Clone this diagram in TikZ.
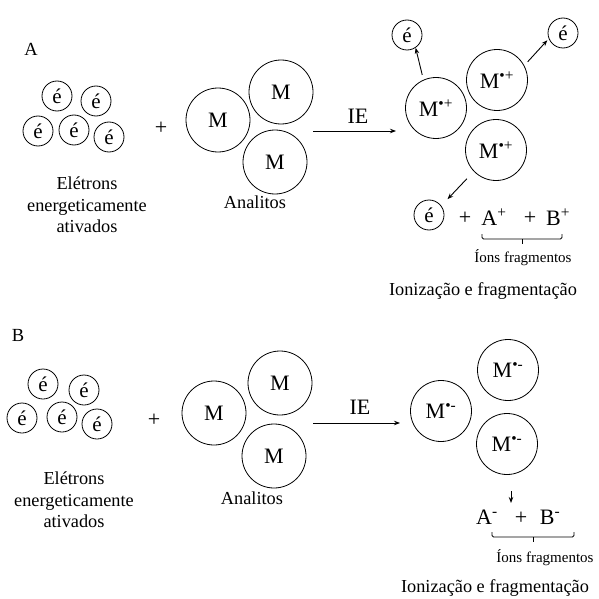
\documentclass[tikz,border=0pt]{standalone}
\usepackage{fontspec}
\setmainfont{Liberation Serif}
\usetikzlibrary{arrows.meta}
\tikzset{
  elec/.style={circle,draw,line width=0.8pt,minimum size=30pt,inner sep=0pt,font=\fontsize{21}{23}\selectfont},
  mol/.style={circle,draw,line width=0.8pt,minimum size=64pt,inner sep=0pt,font=\fontsize{22}{24}\selectfont},
  ion/.style={circle,draw,line width=0.8pt,minimum size=61pt,inner sep=0pt,font=\fontsize{22}{24}\selectfont},
  lbl/.style={font=\fontsize{18.3}{21.5}\selectfont,align=center,inner sep=0pt},
  big/.style={font=\fontsize{22}{24}\selectfont,inner sep=0pt},
  tag/.style={font=\fontsize{18.5}{21}\selectfont,inner sep=0pt},
  small/.style={font=\fontsize{15}{17}\selectfont,inner sep=0pt},
  arr/.style={line width=0.9pt,-{Stealth[length=6pt,width=4.5pt]}},
  brace/.style={line width=0.8pt}
}
\begin{document}
\begin{tikzpicture}[x=1pt,y=-1pt]
\useasboundingbox (0,0) rectangle (599,599);

% ---------- Panel A ----------
\node[tag] (labA) at (31,49) {A};
\node[elec] (a1) at (57,96) {é};
\node[elec] (a2) at (96,101) {é};
\node[elec] (a3) at (38,131) {é};
\node[elec] (a4) at (74,130) {é};
\node[elec] (a5) at (109,137) {é};
\node[lbl] (aelet) at (87,205) {Elétrons\\energeticamente\\ativados};
\node[big] (aplus) at (161,128) {+};
\node[mol] (am1) at (218,120) {M};
\node[mol] (am2) at (281,92) {M};
\node[mol] (am3) at (275,162) {M};
\node[lbl] (aanal) at (255,202) {Analitos};
\coordinate (aarrs) at (313,131);
\coordinate (aarre) at (396,131);
\draw[arr] (aarrs) -- (aarre);
\node[big] (aie) at (358,116) {IE};
\node[ion] (ai1) at (436,108) {M\textsuperscript{•+}};
\node[ion] (ai2) at (497,80) {M\textsuperscript{•+}};
\node[ion] (ai3) at (496,150) {M\textsuperscript{•+}};
\node[elec] (ae1) at (407,35) {é};
\node[elec] (ae2) at (563,33) {é};
\node[elec] (ae3) at (429,215) {é};
\draw[arr,shorten <=5pt] (ai1.114) -- (ae1.-56);
\draw[arr,shorten <=5pt,shorten >=2pt] (ai2.28) -- (ae2.202);
\draw[arr,shorten <=10pt,shorten >=9pt] (ai3.224) -- (ae3.37);
\node[big] (ap1) at (465,218) {+};
\node[big] (aA) at (494,217) {A\textsuperscript{+}};
\node[big] (ap2) at (530,218) {+};
\node[big] (aB) at (558,217) {B\textsuperscript{+}};
\coordinate (abl) at (482,234);
\coordinate (abr) at (562,234);
\coordinate (abm) at (522,239);
\draw[brace,rounded corners=1.5pt] (abl) -- (482,239) -- (562,239) -- (abr);
\draw[brace] (abm) -- (522,244);
\node[small] (aions) at (523,258) {Íons fragmentos};
\node[lbl] (aion) at (483,291) {Ionização e fragmentação};

% ---------- Panel B ----------
\node[tag] (labB) at (18,335) {B};
\node[elec] (b1) at (43,384) {é};
\node[elec] (b2) at (84,390) {é};
\node[elec] (b3) at (22,418) {é};
\node[elec] (b4) at (62,417) {é};
\node[elec] (b5) at (97,424) {é};
\node[lbl] (belet) at (74,500) {Elétrons\\energeticamente\\ativados};
\node[big] (bplus) at (154,420) {+};
\node[mol] (bm1) at (214,413) {M};
\node[mol] (bm2) at (280,383) {M};
\node[mol] (bm3) at (274,456) {M};
\node[lbl] (banal) at (252,498) {Analitos};
\coordinate (barrs) at (313,423);
\coordinate (barre) at (400,423);
\draw[arr] (barrs) -- (barre);
\node[big] (bie) at (360,407) {IE};
\node[ion] (bi1) at (441,411) {M\textsuperscript{•-}};
\node[ion] (bi2) at (508,370) {M\textsuperscript{•-}};
\node[ion] (bi3) at (507,444) {M\textsuperscript{•-}};
\coordinate (bsa) at (511,491);
\coordinate (bsb) at (511,503);
\draw[arr] (bsa) -- (bsb);
\node[big] (bA) at (487,517) {A\textsuperscript{-}};
\node[big] (bp) at (521,518) {+};
\node[big] (bB) at (550,517) {B\textsuperscript{-}};
\coordinate (bbl) at (492,532);
\coordinate (bbr) at (574,532);
\coordinate (bbm) at (533,537);
\draw[brace,rounded corners=1.5pt] (bbl) -- (492,537) -- (574,537) -- (bbr);
\draw[brace] (bbm) -- (533,542);
\node[small] (bions) at (545,558) {Íons fragmentos};
\node[lbl] (bion) at (495,588) {Ionização e fragmentação};
\end{tikzpicture}
\end{document}
